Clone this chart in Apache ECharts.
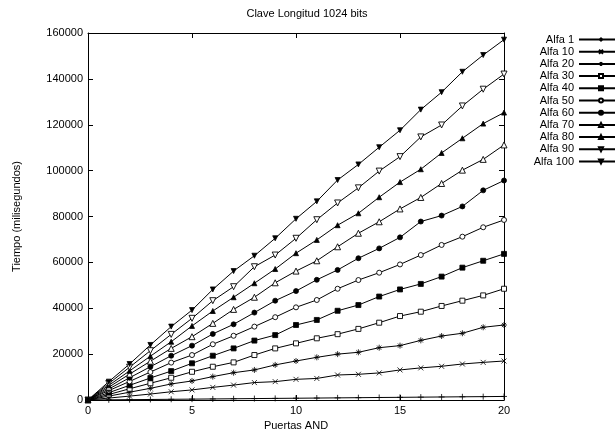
<!DOCTYPE html>
<html>
<head>
    <meta charset="utf-8">
    <title>Clave Longitud 1024 bits</title>
    <script src="https://cdn.jsdelivr.net/npm/echarts@6/dist/echarts.min.js"></script>
</head>
<body style="margin:0">
    <div id="main" style="width:615px;height:439px;"></div>
    <script type="text/javascript">
    // puertas AND (eje x)
    var puertas = [0,1,2,3,4,5,6,7,8,9,10,11,12,13,14,15,16,17,18,19,20];
    var xTicks = [0, 5, 10, 15, 20];
    var yTicks = [0, 20000, 40000, 60000, 80000, 100000, 120000, 140000, 160000];

    // tiempos en milisegundos
    var alfa1   = [0,70,150,230,310,380,460,540,620,700,770,850,930,1010,1090,1160,1240,1320,1400,1470,1550];
    var alfa10  = [0,850,1700,2600,3600,4400,5500,6500,7600,8000,9000,9400,10900,11200,11800,13100,14000,14700,15700,16400,17000];
    var alfa20  = [0,1700,3400,5100,7000,8300,10200,11900,13100,15300,17000,18600,20000,20800,22800,23700,26000,27900,29100,31700,32700];
    var alfa30  = [0,2400,4900,7300,9700,12300,14500,16400,19600,22500,24700,26900,28700,31000,33700,36600,38500,41000,43300,45600,48500];
    var alfa40  = [0,3200,6400,9600,12600,16000,19300,22500,25900,28300,32700,34900,38900,41400,45100,48200,50600,53800,57700,60700,63700];
    var alfa50  = [0,4100,8100,12200,16300,19600,24300,28000,32000,36100,40400,43600,48500,52300,55500,59100,63200,67600,71200,75300,78500];
    var alfa60  = [0,4800,9700,14500,19300,23700,28800,33000,38100,43300,47500,52400,56700,61800,66100,70900,77800,80400,84400,91400,95700];
    var alfa70  = [0,5600,11300,16900,22500,27600,33400,39500,44800,51100,56200,60700,66800,72700,77700,83300,88300,94400,100200,104900,111200];
    var alfa80  = [0,6400,12700,19100,25400,32300,38800,44800,50900,57100,64000,69800,76200,81400,88400,95000,100600,107700,114100,120500,125300];
    var alfa90  = [0,7200,14300,21500,28600,35600,43300,49400,58100,63200,70500,78600,85900,92500,99800,106100,114700,119900,128200,135500,142100];
    var alfa100 = [0,8000,15700,24000,32000,39200,48200,56200,62900,70500,79000,86600,95900,102700,110200,117600,126600,134200,143100,150400,157100];

    var font = 'Liberation Sans, Arial, Helvetica, sans-serif';

    function pares(vals) {
        return puertas.map(function (x, i) { return [x, vals[i]]; });
    }

    // hueco = marca vacia (relleno blanco, borde negro)
    function serie(nombre, vals, symbol, size, hueco, rotate) {
        return {
            name: nombre,
            type: 'line',
            data: pares(vals),
            symbol: symbol,
            symbolSize: size,
            symbolRotate: rotate || 0,
            showAllSymbol: true,
            lineStyle: { color: '#000', width: 1 },
            itemStyle: { color: hueco ? '#fff' : '#000', borderColor: '#000', borderWidth: hueco ? 0.9 : 0.8 },
            emphasis: { disabled: true },
            z: 3
        };
    }

    var plus = 'path://M5,0L5,10M0,5L10,5';
    var cross = 'path://M0,0L10,10M10,0L0,10';
    var star = 'path://M5,0L5,10M0,5L10,5M1.5,1.5L8.5,8.5M8.5,1.5L1.5,8.5';

    var myChart = echarts.init(document.getElementById('main'));

    // onZero false: si no, los ejes de arriba/derecha se pegan al cero
    var ejeX = {
        type: 'value',
        min: 0, max: 20, interval: 5,
        axisLine: { onZero: false, lineStyle: { color: '#000', width: 1 } },
        axisTick: { inside: true, length: 5, lineStyle: { color: '#000' } },
        splitLine: { show: false }
    };
    var ejeY = {
        type: 'value',
        min: 0, max: 160000, interval: 20000,
        axisLine: { show: true, onZero: false, lineStyle: { color: '#000', width: 1 } },
        axisTick: { show: true, inside: true, length: 5, lineStyle: { color: '#000' } },
        splitLine: { show: false }
    };

    var option = {
        animation: false,
        backgroundColor: '#fff',
        title: {
            text: 'Clave Longitud 1024 bits',
            left: 302, top: 3, textAlign: 'center',
            textStyle: { fontFamily: font, fontWeight: 'normal', fontSize: 11, color: '#000' }
        },
        legend: {
            orient: 'vertical',
            right: -14, top: 29,
            align: 'right',
            itemWidth: 44, itemHeight: 5, itemGap: 1.2,
            textStyle: { fontFamily: font, fontSize: 11, color: '#000', lineHeight: 11 },
            data: ['Alfa 1','Alfa 10','Alfa 20','Alfa 30','Alfa 40','Alfa 50','Alfa 60','Alfa 70','Alfa 80','Alfa 90','Alfa 100']
        },
        grid: { left: 88, right: 111, top: 33, bottom: 39 },
        xAxis: [
            Object.assign({}, ejeX, {
                position: 'bottom',
                name: 'Puertas AND', nameLocation: 'middle', nameGap: 19,
                nameTextStyle: { fontFamily: font, fontSize: 11, color: '#000' },
                axisLabel: { margin: 5, fontFamily: font, fontSize: 11, color: '#000',
                    customValues: xTicks }
            }),
            Object.assign({}, ejeX, { position: 'top', axisLabel: { show: false } })
        ],
        yAxis: [
            Object.assign({}, ejeY, {
                position: 'left',
                name: 'Tiempo (milisegundos)', nameLocation: 'middle', nameGap: 66,
                nameTextStyle: { fontFamily: font, fontSize: 11, color: '#000' },
                axisLabel: { margin: 5, fontFamily: font, fontSize: 11, color: '#000',
                    customValues: yTicks,
                    formatter: function (v) { return String(v); } }
            }),
            Object.assign({}, ejeY, { position: 'right', axisLabel: { show: false } })
        ],
        series: [
            serie('Alfa 1', alfa1, plus, 6, false),
            serie('Alfa 10', alfa10, cross, 5, false),
            serie('Alfa 20', alfa20, star, 6, false),
            serie('Alfa 30', alfa30, 'rect', 5, true),
            serie('Alfa 40', alfa40, 'rect', 5, false),
            serie('Alfa 50', alfa50, 'circle', 5, true),
            serie('Alfa 60', alfa60, 'circle', 5, false),
            serie('Alfa 70', alfa70, 'triangle', 6, true),
            serie('Alfa 80', alfa80, 'triangle', 5, false),
            serie('Alfa 90', alfa90, 'triangle', 6, true, 180),
            serie('Alfa 100', alfa100, 'triangle', 5, false, 180)
        ]
    };

    myChart.setOption(option);
    </script>
</body>
</html>
